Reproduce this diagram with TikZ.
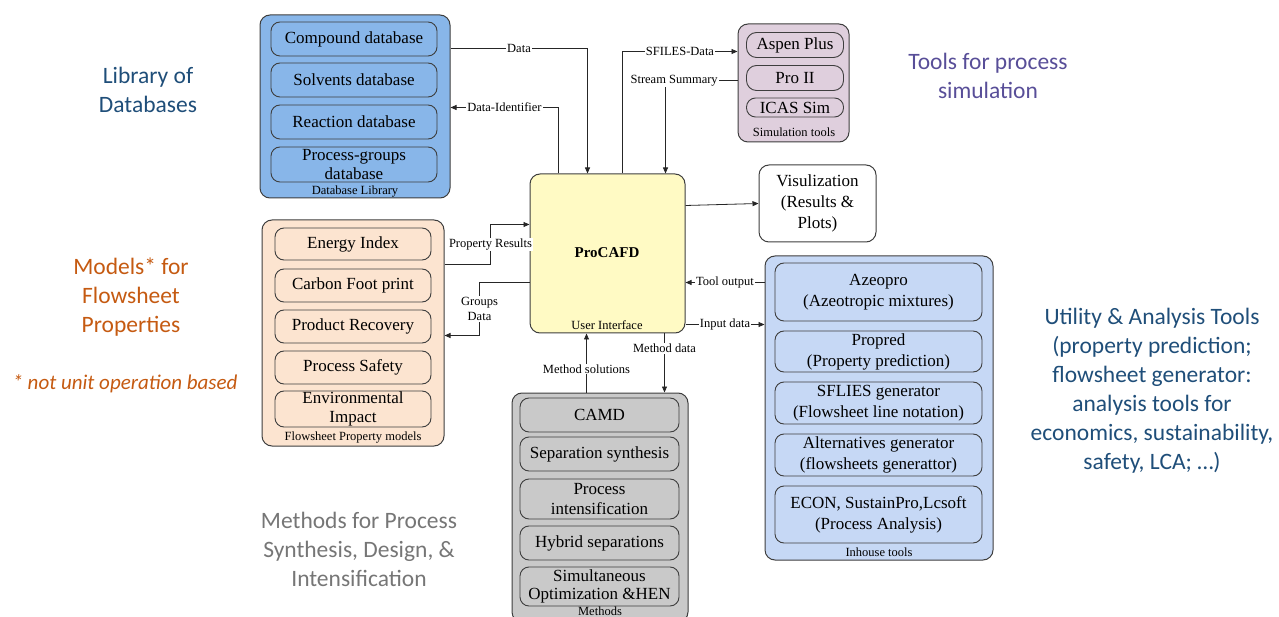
\documentclass[tikz,border=0pt]{standalone}
\usepackage{fontspec}
\setmainfont{Liberation Serif}
\newfontfamily\slidefont{Carlito}
\usetikzlibrary{arrows.meta,calc}

\definecolor{dbblue}{RGB}{136,182,233}
\definecolor{simpink}{RGB}{223,207,221}
\definecolor{uicream}{RGB}{255,250,196}
\definecolor{peach}{RGB}{252,228,208}
\definecolor{methgray}{RGB}{201,201,201}
\definecolor{toolblue}{RGB}{198,216,245}
\definecolor{edge}{RGB}{62,62,62}
\definecolor{libblue}{RGB}{31,78,121}
\definecolor{simpurple}{RGB}{88,78,152}
\definecolor{modorange}{RGB}{197,90,17}
\definecolor{methtext}{RGB}{118,118,118}

\begin{document}
\begin{tikzpicture}[x=1pt,y=-1pt,
  grp/.style={draw=edge, line width=1pt, rounded corners=10pt, inner sep=0pt},
  item/.style={draw=edge, line width=0.9pt, rounded corners=9pt, inner sep=0pt,
    align=center, font=\fontsize{17}{19.5}\selectfont},
  grplabel/.style={inner sep=0pt, font=\fontsize{12.5}{14}\selectfont},
  conn/.style={draw=black!85, line width=0.8pt},
  arr/.style={conn, -{Triangle[length=6pt,width=5pt]}},
  lbl/.style={fill=white, inner sep=1pt, align=center, font=\fontsize{12.5}{15}\selectfont},
  side/.style={align=center, font=\slidefont\fontsize{23.5}{29}\selectfont}]
\useasboundingbox (0,0) rectangle (1279,617);

% ---------- database library ----------
\node[grp, fill=dbblue, minimum width=190, minimum height=183] (dblib) at (355,106.5) {};
\node[item, fill=dbblue, minimum width=166, minimum height=34] (compound) at (354,39) {Compound database};
\node[item, fill=dbblue, minimum width=166, minimum height=34] (solvents) at (354,80) {Solvents database};
\node[item, fill=dbblue, minimum width=166, minimum height=34] (reaction) at (354,122) {Reaction database};
\node[item, fill=dbblue, minimum width=166, minimum height=35, font=\fontsize{17}{18.5}\selectfont] (pgroups) at (354,164.5) {Process-groups\\database};
\node[grplabel] (dblabel) at (355,192) {Database Library};

% ---------- simulation tools ----------
\node[grp, fill=simpink, minimum width=111, minimum height=118] (sim) at (793.5,83) {};
\node[item, fill=simpink, minimum width=97, minimum height=25, rounded corners=10pt] (aspen) at (795,45) {Aspen Plus};
\node[item, fill=simpink, minimum width=97, minimum height=25, rounded corners=10pt] (proii) at (795,78) {Pro II};
\node[item, fill=simpink, minimum width=97, minimum height=19, rounded corners=9pt] (icas) at (795,107.5) {ICAS Sim};
\node[grplabel] (simlabel) at (794,132.5) {Simulation tools};

% ---------- central user interface ----------
\node[grp, fill=uicream, minimum width=155, minimum height=159] (procafd) at (607.5,253.5) {};
\node[inner sep=0pt, font=\fontsize{15}{17}\selectfont\bfseries] (uititle) at (607,253) {ProCAFD};
\node[grplabel] (uilabel) at (607,325) {User Interface};

% ---------- visualization ----------
\node[grp, fill=white, minimum width=117, minimum height=77, align=center,
  font=\fontsize{17}{21}\selectfont] (vis) at (817.5,203.5) {Visulization\\(Results \&\\Plots)};

% ---------- flowsheet property models ----------
\node[grp, fill=peach, minimum width=182, minimum height=226] (models) at (353,333) {};
\node[item, fill=peach, minimum width=156, minimum height=32] (energy) at (353,244) {Energy Index};
\node[item, fill=peach, minimum width=156, minimum height=33] (carbon) at (353,285.5) {Carbon Foot print};
\node[item, fill=peach, minimum width=156, minimum height=33] (recovery) at (353,326.5) {Product Recovery};
\node[item, fill=peach, minimum width=156, minimum height=33] (safety) at (353,367.5) {Process Safety};
\node[item, fill=peach, minimum width=156, minimum height=36, font=\fontsize{17}{18.5}\selectfont] (environ) at (353,409) {Environmental\\Impact};
\node[grplabel] (modlabel) at (353,438) {Flowsheet Property models};

% ---------- methods ----------
\node[grp, fill=methgray, minimum width=176, minimum height=229] (methods) at (600,507.5) {};
\node[item, fill=methgray, minimum width=159, minimum height=34] (camd) at (599.5,415) {CAMD};
\node[item, fill=methgray, minimum width=159, minimum height=34] (sepsyn) at (599.5,454) {Separation synthesis};
\node[item, fill=methgray, minimum width=159, minimum height=40] (procint) at (599.5,499) {Process\\intensification};
\node[item, fill=methgray, minimum width=159, minimum height=34] (hybrid) at (599.5,543) {Hybrid separations};
\node[item, fill=methgray, minimum width=159, minimum height=39, font=\fontsize{17}{18.5}\selectfont] (simopt) at (599.5,586.5) {Simultaneous\\Optimization \&HEN};
\node[grplabel] (methlabel) at (600,611) {Methods};

% ---------- in-house tools ----------
\node[grp, fill=toolblue, minimum width=228, minimum height=304] (inhouse) at (879,408) {};
\node[item, fill=toolblue, minimum width=207, minimum height=58, font=\fontsize{17}{21}\selectfont] (azeo) at (878.5,292) {Azeopro\\(Azeotropic mixtures)};
\node[item, fill=toolblue, minimum width=207, minimum height=41, font=\fontsize{17}{21}\selectfont] (propred) at (878.5,351.5) {Propred\\(Property prediction)};
\node[item, fill=toolblue, minimum width=207, minimum height=42, font=\fontsize{17}{21}\selectfont] (sflies) at (878.5,403) {SFLIES generator\\(Flowsheet line notation)};
\node[item, fill=toolblue, minimum width=207, minimum height=42, font=\fontsize{17}{21}\selectfont] (altgen) at (878.5,455) {Alternatives generator\\(flowsheets generattor)};
\node[item, fill=toolblue, minimum width=207, minimum height=57, font=\fontsize{17}{21}\selectfont] (econ) at (878.5,514.5) {ECON, SustainPro,Lcsoft\\(Process Analysis)};
\node[grplabel] (toollabel) at (879,552) {Inhouse tools};

% ---------- connectors ----------
\draw[arr] ($(dblib.north east)+(0,34)$) -| node[lbl, pos=0.25] {Data} ($(procafd.north west)+(58,0)$);
\draw[arr] ($(procafd.north west)+(29,0)$) |- node[lbl, pos=0.75] {Data-Identifier} ($(dblib.north east)+(0,93)$);
\draw[arr] ($(procafd.north west)+(93,0)$) |- node[lbl, pos=0.75] {SFILES-Data} ($(sim.north west)+(0,28)$);
\draw[arr] ($(sim.north west)+(0,57)$) -| node[lbl, pos=0.44] {Stream Summary} ($(procafd.north west)+(136,0)$);
\draw[arr] ($(procafd.north east)+(0,32)$) -- (vis.west);
\draw[arr] ($(models.north east)+(0,45)$) -- ++(46,0) |- node[lbl, pos=0.25] {Property Results} ($(procafd.north west)+(0,51)$);
\draw[arr] ($(procafd.north west)+(0,109)$) -- ++(-50,0) |- node[lbl, pos=0.25] {Groups\\Data} ($(models.north east)+(0,116)$);
\draw[arr] ($(inhouse.north west)+(0,27)$) -- node[lbl] {Tool output} ($(procafd.north east)+(0,109)$);
\draw[arr] ($(procafd.north east)+(0,151)$) -- node[lbl] {Input data} ($(inhouse.north west)+(0,69)$);
\draw[arr] ($(procafd.south west)+(135,0)$) -- node[lbl, pos=0.25] {Method data} ($(methods.north west)+(153,0)$);
\draw[arr] ($(methods.north west)+(75,0)$) -- node[lbl, pos=0.4] {Method solutions} ($(procafd.south west)+(57,0)$);

% ---------- captions ----------
\node[side, text=libblue] (capdb) at (148,90) {Library of\\Databases};
\node[side, text=simpurple] (capsim) at (988,76) {Tools for process\\simulation};
\node[side, text=modorange] (capmod) at (131,297) {Models* for\\Flowsheet\\Properties};
\node[align=center, text=modorange, font=\slidefont\itshape\fontsize{21}{24}\selectfont] (capnote) at (125,384) {* not unit operation based};
\node[side, text=methtext] (capmeth) at (359,549) {Methods for Process\\Synthesis, Design, \&\\Intensification};
\node[side, text=libblue] (captool) at (1152,391) {Utility \& Analysis Tools\\(property prediction;\\flowsheet generator:\\analysis tools for\\economics, sustainability,\\safety, LCA; \dots)};
\end{tikzpicture}
\end{document}
